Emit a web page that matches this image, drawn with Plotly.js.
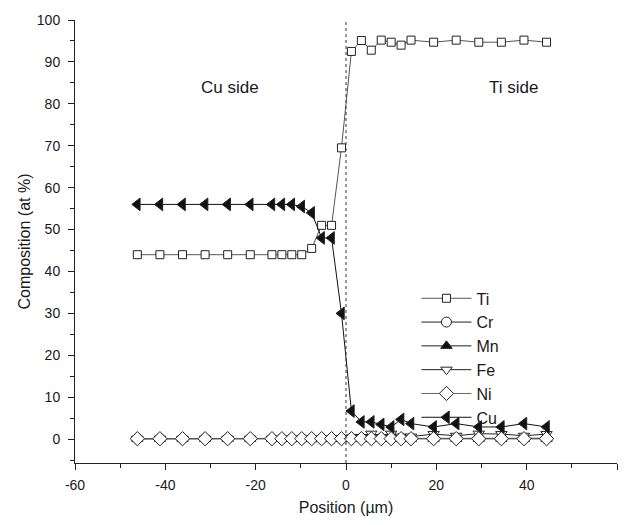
<!DOCTYPE html>
<html>
<head>
<meta charset="utf-8">
<script src="https://cdn.plot.ly/plotly-3.0.1.min.js"></script>
<style>html,body{margin:0;padding:0;background:#fff;}#chart{width:624px;height:525px;}</style>
</head>
<body>
<div id="chart"></div>
<script>
// Positions (µm)
const position = [-46.2,-41.2,-36.2,-31.2,-26.2,-21.2,-16.4,-14.2,-12.0,-9.8,-7.6,-5.4,-3.2,-1.0,1.2,3.4,5.6,7.8,10.0,12.2,14.4,19.4,24.4,29.4,34.4,39.4,44.4];
const ti = [44,44,44,44,44,44,44,44,44,44,45.5,51,51,69.5,92.5,95.1,92.8,95.2,94.7,94.0,95.2,94.7,95.2,94.7,94.7,95.2,94.7];
const cr = [0.1,0.1,0.1,0.1,0.1,0.1,0.1,0.1,0.1,0.1,0.1,0.1,0.1,0.1,0.2,0.2,0.2,0.2,0.2,0.2,0.2,0.2,0.2,0.2,0.2,0.2,0.2];
const mn = [0.1,0.1,0.1,0.1,0.1,0.1,0.1,0.1,0.1,0.1,0.1,0.1,0.1,0.1,0.1,0.1,0.1,0.1,0.1,0.1,0.1,0.1,0.1,0.1,0.1,0.1,0.1];
const fe = [0.1,0.1,0.1,0.1,0.1,0.1,0.1,0.1,0.1,0.1,0.1,0.1,0.1,0.2,0.4,0.5,1.3,0.5,1.3,0.6,0.6,1.2,0.8,1.3,1.2,0.8,1.2];
const ni = [0.1,0.1,0.1,0.1,0.1,0.1,0.1,0.1,0.1,0.1,0.1,0.1,0.1,0.1,0.1,0.1,0.1,0.1,0.1,0.1,0.1,0.1,0.1,0.1,0.1,0.1,0.1];
const cu = [56,56,56,56,56,56,56,56,56,55.5,54,48,48,30,6.7,4.1,4.1,3.5,2.9,4.7,3.7,2.9,3.7,2.9,2.9,3.7,2.9];
const xTicks = [-60,-40,-20,0,20,40,60];
const xTickText = ['-60','-40','-20','0','20','40','60'];
const yTicks = [0,10,20,30,40,50,60,70,80,90,100];
const yTickText = ['0','10','20','30','40','50','60','70','80','90','100'];

const font = 'Liberation Sans, Arial, sans-serif';
function tr(name, y, symbol, size, fill, lineColor) {
  return {
    x: position, y: y, name: name, type: 'scatter', mode: 'lines+markers',
    line: {color: lineColor, width: 1},
    marker: {symbol: symbol, size: size, color: fill, line: {color: '#222', width: 1}},
    cliponaxis: false
  };
}
const data = [
  tr('Ti', ti, 'square', 8, '#fff', '#555'),
  tr('Cr', cr, 'circle', 10, '#fff', '#222'),
  tr('Mn', mn, 'triangle-up', 10, '#111', '#222'),
  tr('Fe', fe, 'triangle-down', 10, '#fff', '#222'),
  tr('Ni', ni, 'diamond', 11, '#fff', '#666'),
  tr('Cu', cu, 'triangle-left', 11, '#111', '#111')
];
const layout = {
  width: 624, height: 525,
  margin: {l: 75, r: 7, t: 20, b: 62},
  paper_bgcolor: '#fff', plot_bgcolor: '#fff',
  font: {family: font, color: '#1a1a1a', size: 14},
  showlegend: true,
  legend: {x: 0.63, y: 0.41, xanchor: 'left', yanchor: 'top', bgcolor: 'rgba(0,0,0,0)',
           font: {family: font, size: 16, color: '#1a1a1a'}, itemwidth: 50, tracegroupgap: 0},
  xaxis: {
    range: [-60, 60], tickvals: xTicks, ticktext: xTickText, ticks: 'outside', ticklen: 6, tickwidth: 1, tickcolor: '#222',
    minor: {dtick: 10, ticks: 'outside', ticklen: 4, tickcolor: '#222'},
    showline: true, linecolor: '#222', linewidth: 1, showgrid: false, zeroline: false,
    tickfont: {size: 14}, ticklabelstandoff: 3,
    title: {text: 'Position (µm)', font: {size: 16}, standoff: 10}
  },
  yaxis: {
    range: [-5.7, 100], tickvals: yTicks, ticktext: yTickText, ticks: 'outside', ticklen: 6, tickwidth: 1, tickcolor: '#222',
    minor: {dtick: 5, tick0: 0, ticks: 'outside', ticklen: 4, tickcolor: '#222'},
    showline: true, linecolor: '#222', linewidth: 1, showgrid: false, zeroline: false,
    tickfont: {size: 14}, ticklabelstandoff: 5,
    title: {text: 'Composition (at %)', font: {size: 16}, standoff: 2}
  },
  shapes: [{type: 'line', xref: 'x', yref: 'paper', x0: 0, x1: 0, y0: 0, y1: 1,
            line: {color: '#333', width: 1, dash: 'dot'}}],
  annotations: [
    {x: -25.7, y: 84, xref: 'x', yref: 'y', text: 'Cu side', showarrow: false, font: {size: 17, family: font, color: '#1a1a1a'}},
    {x: 37, y: 84, xref: 'x', yref: 'y', text: 'Ti side', showarrow: false, font: {size: 17, family: font, color: '#1a1a1a'}}
  ]
};
Plotly.newPlot('chart', data, layout, {displayModeBar: false, staticPlot: true});
</script>
</body>
</html>
